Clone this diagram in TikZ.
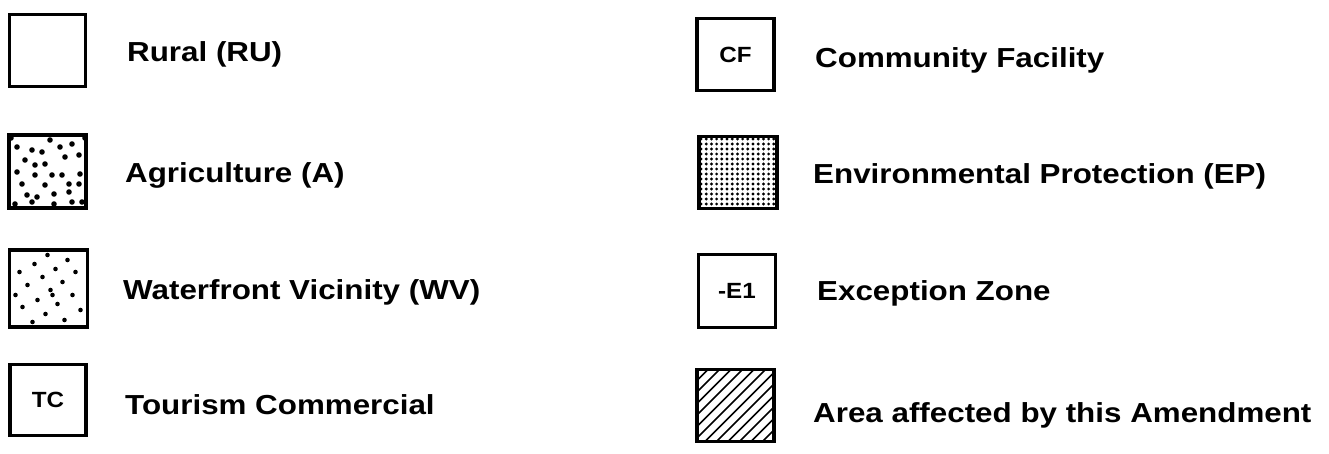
\documentclass[tikz,border=0pt]{standalone}
\usepackage{fontspec}
\usepackage{graphicx}
\setmainfont{Liberation Sans}
\newcommand{\lbl}[1]{\scalebox{1.14}[1]{#1}}
\newcommand{\blbl}[1]{\scalebox{1.1}[1]{#1}}
\begin{document}
\begin{tikzpicture}[x=1pt,y=-1pt,
  legbox/.style={draw=black,line width=3.5pt,rectangle,inner sep=0pt,outer sep=0pt,
    font=\fontsize{22}{26}\selectfont\bfseries},
  legtext/.style={anchor=base west,inner sep=0pt,
    font=\fontsize{27.5}{33}\selectfont\bfseries},
  blob/.style={fill=black}]
\useasboundingbox (0,0) rectangle (1329,453);

% ---- left column boxes
\node[legbox,minimum width=76pt,minimum height=72pt] (b1) at (47.5,50.5) {};
\node[legbox,minimum width=77pt,minimum height=73pt] (b2) at (47.5,171.5) {};
\node[legbox,minimum width=78pt,minimum height=77pt] (b3) at (48.5,288.5) {};
\node[legbox,minimum width=76pt,minimum height=71pt] (b4) at (48,400) {\blbl{TC}};

% ---- right column boxes
\node[legbox,minimum width=77pt,minimum height=72pt] (b5) at (735.5,54.5) {\blbl{CF}};
\node[legbox,minimum width=78pt,minimum height=72pt] (b6) at (738,172.5) {};
\node[legbox,minimum width=77pt,minimum height=73pt] (b7) at (737,291) {\blbl{-E1}};
\node[legbox,minimum width=77pt,minimum height=72pt] (b8) at (735.5,405.5) {};

% ---- Agriculture pattern
\begin{scope}
  \clip (b2.north west) rectangle (b2.south east);
  \begin{scope}[shift={(b2.north west)}]
  \foreach \px/\py in {8/12,23/15,33/17,41/5,51/12,63/9,70/20,16/25,26/30,36/29,56/22,
      8/37,26/40,43/40,53/40,71/39,13/49,36/50,60/49,70/49,18/60,28/62,45/59,60/57,
      6/69,23/67,45/69,63/67,73/67,2/3,76/3,2/74,76/74}
    \fill[blob] (\px,\py) circle (2.8pt);
  \end{scope}
\end{scope}

% ---- Waterfront Vicinity pattern
\begin{scope}
  \clip (b3.north west) rectangle (b3.south east);
  \begin{scope}[shift={(b3.north west)}]
  \foreach \px/\py in {25/14,38/5,58/10,10/22,46/19,66/22,33/27,18/35,53/32,41/40,
      43/45,63/45,28/50,48/54,13/57,36/64,71/60,23/72,55/70,6/45}
    \fill[blob] (\px,\py) circle (2.3pt);
  \end{scope}
\end{scope}

% ---- Environmental Protection pattern
\begin{scope}
  \clip (b6.north west) rectangle (b6.south east);
  \begin{scope}[shift={(b6.north west)}]
  \foreach \i in {0,...,15}
    \foreach \j in {0,...,14}
      \fill[blob] ({2+\i*5.2},{2.5+\j*5.0}) circle (1.6pt);
  \end{scope}
\end{scope}

% ---- Hatched (amendment area)
\begin{scope}
  \clip (b8.north west) rectangle (b8.south east);
  \begin{scope}[shift={(b8.north west)}]
  \foreach \c in {-92,-80.5,...,90}
    \draw[line width=1.5pt] (\c,80) -- ({\c+80},0);
  \end{scope}
\end{scope}

% redraw borders on top
\foreach \b in {b2,b3,b6,b8}
  \draw[line width=3.5pt] (\b.north west) rectangle (\b.south east);

% ---- texts
\node[legtext] (t1) at (127,61) {\lbl{Rural (RU)}};
\node[legtext] (t2) at (125,182) {\lbl{Agriculture (A)}};
\node[legtext] (t3) at (123,299) {\lbl{Waterfront Vicinity (WV)}};
\node[legtext] (t4) at (125,414) {\lbl{Tourism Commercial}};
\node[legtext] (t5) at (815,67) {\lbl{Community Facility}};
\node[legtext] (t6) at (813,183) {\lbl{Environmental Protection (EP)}};
\node[legtext] (t7) at (817,300) {\lbl{Exception Zone}};
\node[legtext] (t8) at (813,422) {\lbl{Area affected by this Amendment}};
\end{tikzpicture}
\end{document}
